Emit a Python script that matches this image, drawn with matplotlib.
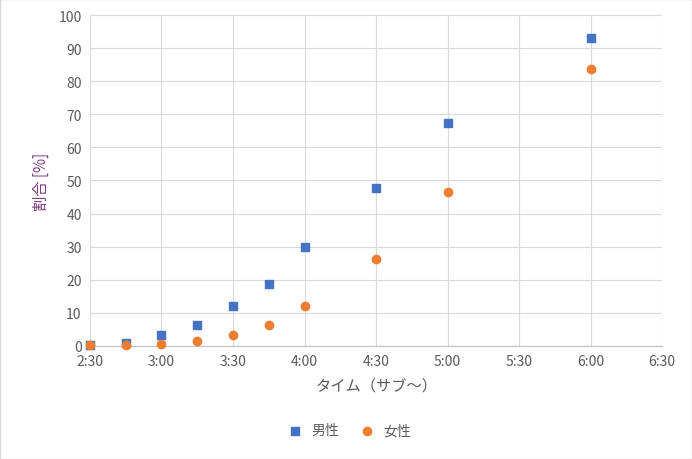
import matplotlib
matplotlib.use("Agg")
import matplotlib.pyplot as plt
from matplotlib.patches import Rectangle

plt.rcParams['font.family'] = ['Noto Sans CJK JP', 'DejaVu Sans']

minutes = [150, 165, 180, 195, 210, 225, 240, 270, 300, 360]
male = [0.3, 1.0, 3.2, 6.2, 12.0, 18.7, 29.8, 47.7, 67.5, 93.2]
female = [0.2, 0.3, 0.6, 1.5, 3.3, 6.3, 12.1, 26.3, 46.5, 83.7]
xticks = [150, 180, 210, 240, 270, 300, 330, 360, 390]
xlabels = ["2:30", "3:00", "3:30", "4:00", "4:30", "5:00", "5:30", "6:00", "6:30"]

fig = plt.figure(figsize=(6.92, 4.60), dpi=100)
ax = fig.add_axes([0.130, 0.246, 0.827, 0.719])
ax.scatter(minutes, male, marker='s', s=30, color='#4472C4', label='男性', zorder=3, clip_on=False)
ax.scatter(minutes, female, marker='o', s=36, color='#ED7D31', label='女性', zorder=3, clip_on=False)
ax.set_xlim(150, 390)
ax.set_ylim(0, 100)
ax.set_xticks(xticks)
ax.set_xticklabels(xlabels)
ax.set_yticks(range(0, 101, 10))
ax.grid(True, color='#D9D9D9', linewidth=0.8)
ax.set_axisbelow(True)
for s in ['top', 'right', 'left']:
    ax.spines[s].set_visible(False)
ax.spines['bottom'].set_color('#BFBFBF')
ax.tick_params(length=0, labelsize=10, colors='#595959', pad=6)
ax.set_xlabel('タイム（サブ〜）', fontsize=11, color='#595959', labelpad=6)
ax.set_ylabel('割合 [%]', fontsize=11, color='#7F3F7F', labelpad=6)
fig.legend(loc='lower center', bbox_to_anchor=(0.5, 0.02), ncol=2, frameon=False,
           fontsize=10, labelcolor='#595959', handletextpad=0.2, columnspacing=1.0)
fig.patches.append(Rectangle((0, 0), 1, 1, transform=fig.transFigure, fill=False,
                             edgecolor='#D9D9D9', linewidth=1))
fig.savefig('out.png', dpi=100)
